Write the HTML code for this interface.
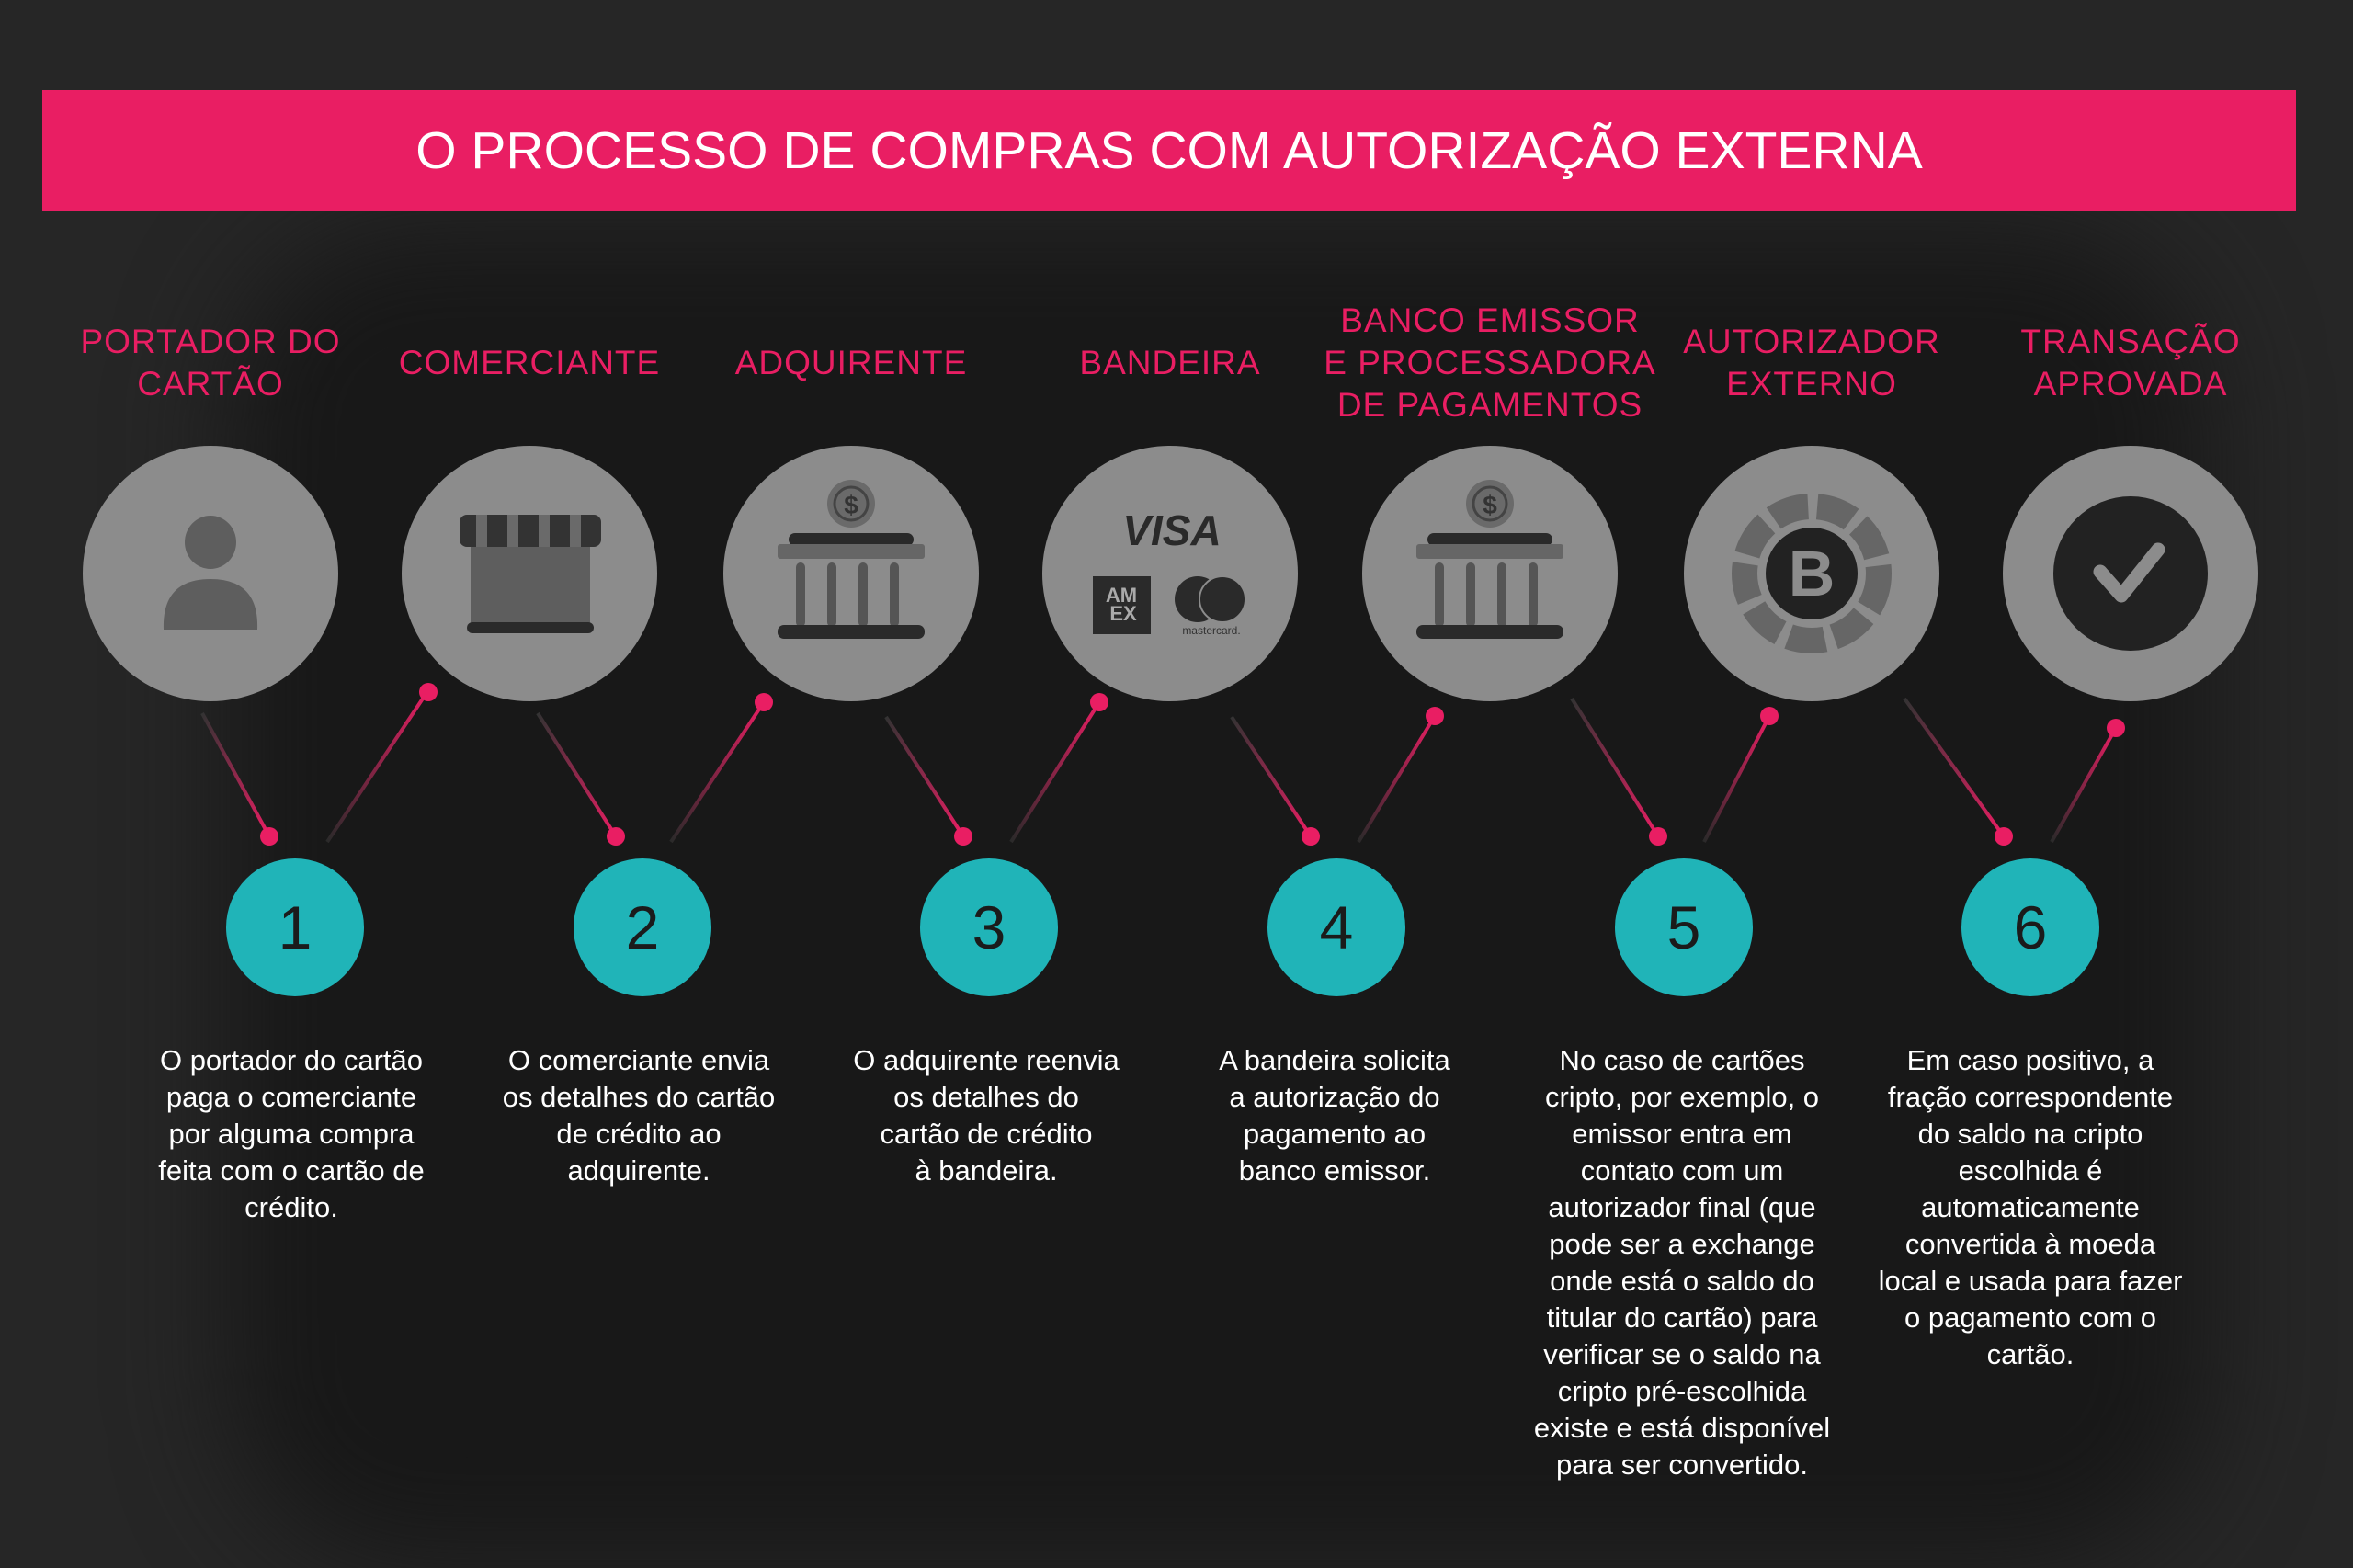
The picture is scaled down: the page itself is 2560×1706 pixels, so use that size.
<!DOCTYPE html>
<html><head><meta charset="utf-8"><style>
body{margin:0;width:2560px;height:1706px;background:#262626;overflow:hidden;position:relative;font-family:"Liberation Sans",sans-serif}
.glow{position:absolute;left:250px;top:250px;width:2150px;height:1450px;background:#181818;border-radius:200px;filter:blur(60px)}
.banner{position:absolute;left:46px;top:98px;width:2452px;height:132px;background:#e91e63;color:#fff;font-size:57px;text-align:center;line-height:132px;letter-spacing:0px}
.lbl{position:absolute;width:400px;margin-left:-200px;color:#e91e63;font-size:37px;line-height:46px;text-align:center;letter-spacing:1px}
.desc{position:absolute;width:380px;margin-left:-190px;top:1134px;color:#fff;font-size:31px;line-height:40px;text-align:center}
.num{position:absolute;top:934px;width:150px;height:150px;margin-left:-75px;border-radius:50%;background:#20b4b8;color:#1b1b1b;font-size:66px;line-height:150px;text-align:center}
svg{position:absolute;left:0;top:0}
</style></head><body>
<div class="glow"></div>
<div class="banner">O PROCESSO DE COMPRAS COM AUTORIZAÇÃO EXTERNA</div>

<div class="lbl" style="left:229px;top:349px">PORTADOR DO<br>CARTÃO</div>
<div class="lbl" style="left:576px;top:372px">COMERCIANTE</div>
<div class="lbl" style="left:926px;top:372px">ADQUIRENTE</div>
<div class="lbl" style="left:1273px;top:372px">BANDEIRA</div>
<div class="lbl" style="left:1621px;top:326px">BANCO EMISSOR<br>E PROCESSADORA<br>DE PAGAMENTOS</div>
<div class="lbl" style="left:1971px;top:349px">AUTORIZADOR<br>EXTERNO</div>
<div class="lbl" style="left:2318px;top:349px">TRANSAÇÃO<br>APROVADA</div>

<svg width="2560" height="1706" viewBox="0 0 2560 1706">
<defs>
<linearGradient id="gd" x1="0" y1="0" x2="1" y2="1"><stop offset="0" stop-color="#333"/><stop offset="1" stop-color="#e91e63"/></linearGradient>
<linearGradient id="gu" x1="0" y1="1" x2="1" y2="0"><stop offset="0" stop-color="#2a2a2a"/><stop offset="1" stop-color="#e91e63"/></linearGradient>
</defs>
<g fill="#8c8c8c">
<circle cx="229" cy="624" r="139"/><circle cx="576" cy="624" r="139"/><circle cx="926" cy="624" r="139"/><circle cx="1273" cy="624" r="139"/><circle cx="1621" cy="624" r="139"/><circle cx="1971" cy="624" r="139"/><circle cx="2318" cy="624" r="139"/>
</g>
<ellipse cx="229" cy="590" rx="28" ry="29" fill="#5e5e5e"/>
<path d="M178 685 Q176 630 229 630 Q282 630 280 685 Z" fill="#5e5e5e"/>
<rect x="512" y="595" width="130" height="85" fill="#5e5e5e"/>
<rect x="500" y="560" width="154" height="35" rx="8" fill="#333"/>
<g fill="#6a6a6a"><rect x="518" y="560" width="12" height="35"/><rect x="552" y="560" width="12" height="35"/><rect x="586" y="560" width="12" height="35"/><rect x="620" y="560" width="12" height="35"/></g>
<rect x="508" y="677" width="138" height="12" rx="6" fill="#2a2a2a"/>
<g id="bank">
<circle cx="926" cy="548" r="26" fill="#6a6a6a"/><circle cx="926" cy="548" r="18" fill="none" stroke="#444" stroke-width="3"/>
<text x="926" y="559" font-size="28" text-anchor="middle" fill="#333" font-family="Liberation Sans" font-weight="bold">$</text>
<rect x="858" y="580" width="136" height="14" rx="7" fill="#2a2a2a"/>
<rect x="846" y="592" width="160" height="16" rx="3" fill="#666"/>
<g fill="#555"><rect x="866" y="612" width="10" height="70" rx="5"/><rect x="900" y="612" width="10" height="70" rx="5"/><rect x="934" y="612" width="10" height="70" rx="5"/><rect x="968" y="612" width="10" height="70" rx="5"/></g>
<rect x="846" y="680" width="160" height="15" rx="7" fill="#2a2a2a"/>
</g>
<use href="#bank" x="695"/>
<text x="1275" y="593" font-size="46" font-style="italic" font-weight="bold" text-anchor="middle" fill="#2a2a2a" font-family="Liberation Sans">VISA</text>
<rect x="1189" y="627" width="63" height="63" fill="#2a2a2a"/>
<text x="1220" y="655" font-size="22" font-weight="bold" text-anchor="middle" fill="#aaa">AM</text>
<text x="1222" y="675" font-size="22" font-weight="bold" text-anchor="middle" fill="#aaa">EX</text>
<circle cx="1303" cy="652" r="25" fill="#2a2a2a"/><circle cx="1330" cy="652" r="25" fill="#2a2a2a" stroke="#8c8c8c" stroke-width="2"/>
<text x="1318" y="690" font-size="12" text-anchor="middle" fill="#333">mastercard.</text>
<circle cx="1971" cy="624" r="73" fill="none" stroke="#666" stroke-width="28" stroke-dasharray="40 10"/>
<circle cx="1971" cy="624" r="50" fill="#222"/>
<text x="1971" y="648" font-size="70" font-weight="bold" text-anchor="middle" fill="#8c8c8c">B</text>
<circle cx="2318" cy="624" r="84" fill="#222"/>
<path d="M2285 622 L2308 648 L2348 598" fill="none" stroke="#8c8c8c" stroke-width="15" stroke-linecap="round" stroke-linejoin="round"/>
<g stroke-width="4" fill="none">
<line x1="220" y1="776" x2="293" y2="910" stroke="url(#gd)"/><line x1="356" y1="916" x2="466" y2="751" stroke="url(#gu)"/>
<line x1="585" y1="776" x2="670" y2="910" stroke="url(#gd)"/><line x1="730" y1="916" x2="831" y2="764" stroke="url(#gu)"/>
<line x1="964" y1="780" x2="1048" y2="910" stroke="url(#gd)"/><line x1="1100" y1="916" x2="1196" y2="764" stroke="url(#gu)"/>
<line x1="1340" y1="780" x2="1426" y2="910" stroke="url(#gd)"/><line x1="1478" y1="916" x2="1561" y2="779" stroke="url(#gu)"/>
<line x1="1710" y1="760" x2="1804" y2="910" stroke="url(#gd)"/><line x1="1854" y1="916" x2="1925" y2="779" stroke="url(#gu)"/>
<line x1="2072" y1="760" x2="2180" y2="910" stroke="url(#gd)"/><line x1="2232" y1="916" x2="2302" y2="792" stroke="url(#gu)"/>
</g>
<g fill="#e91e63">
<circle cx="293" cy="910" r="10"/><circle cx="466" cy="753" r="10"/>
<circle cx="670" cy="910" r="10"/><circle cx="831" cy="764" r="10"/>
<circle cx="1048" cy="910" r="10"/><circle cx="1196" cy="764" r="10"/>
<circle cx="1426" cy="910" r="10"/><circle cx="1561" cy="779" r="10"/>
<circle cx="1804" cy="910" r="10"/><circle cx="1925" cy="779" r="10"/>
<circle cx="2180" cy="910" r="10"/><circle cx="2302" cy="792" r="10"/>
</g>
</svg>

<div class="num" style="left:321px">1</div>
<div class="num" style="left:699px">2</div>
<div class="num" style="left:1076px">3</div>
<div class="num" style="left:1454px">4</div>
<div class="num" style="left:1832px">5</div>
<div class="num" style="left:2209px">6</div>

<div class="desc" style="left:317px">O portador do cartão<br>paga o comerciante<br>por alguma compra<br>feita com o cartão de<br>crédito.</div>
<div class="desc" style="left:695px">O comerciante envia<br>os detalhes do cartão<br>de crédito ao<br>adquirente.</div>
<div class="desc" style="left:1073px">O adquirente reenvia<br>os detalhes do<br>cartão de crédito<br>à bandeira.</div>
<div class="desc" style="left:1452px">A bandeira solicita<br>a autorização do<br>pagamento ao<br>banco emissor.</div>
<div class="desc" style="left:1830px">No caso de cartões<br>cripto, por exemplo, o<br>emissor entra em<br>contato com um<br>autorizador final (que<br>pode ser a exchange<br>onde está o saldo do<br>titular do cartão) para<br>verificar se o saldo na<br>cripto pré-escolhida<br>existe e está disponível<br>para ser convertido.</div>
<div class="desc" style="left:2209px">Em caso positivo, a<br>fração correspondente<br>do saldo na cripto<br>escolhida é<br>automaticamente<br>convertida à moeda<br>local e usada para fazer<br>o pagamento com o<br>cartão.</div>
</body></html>
